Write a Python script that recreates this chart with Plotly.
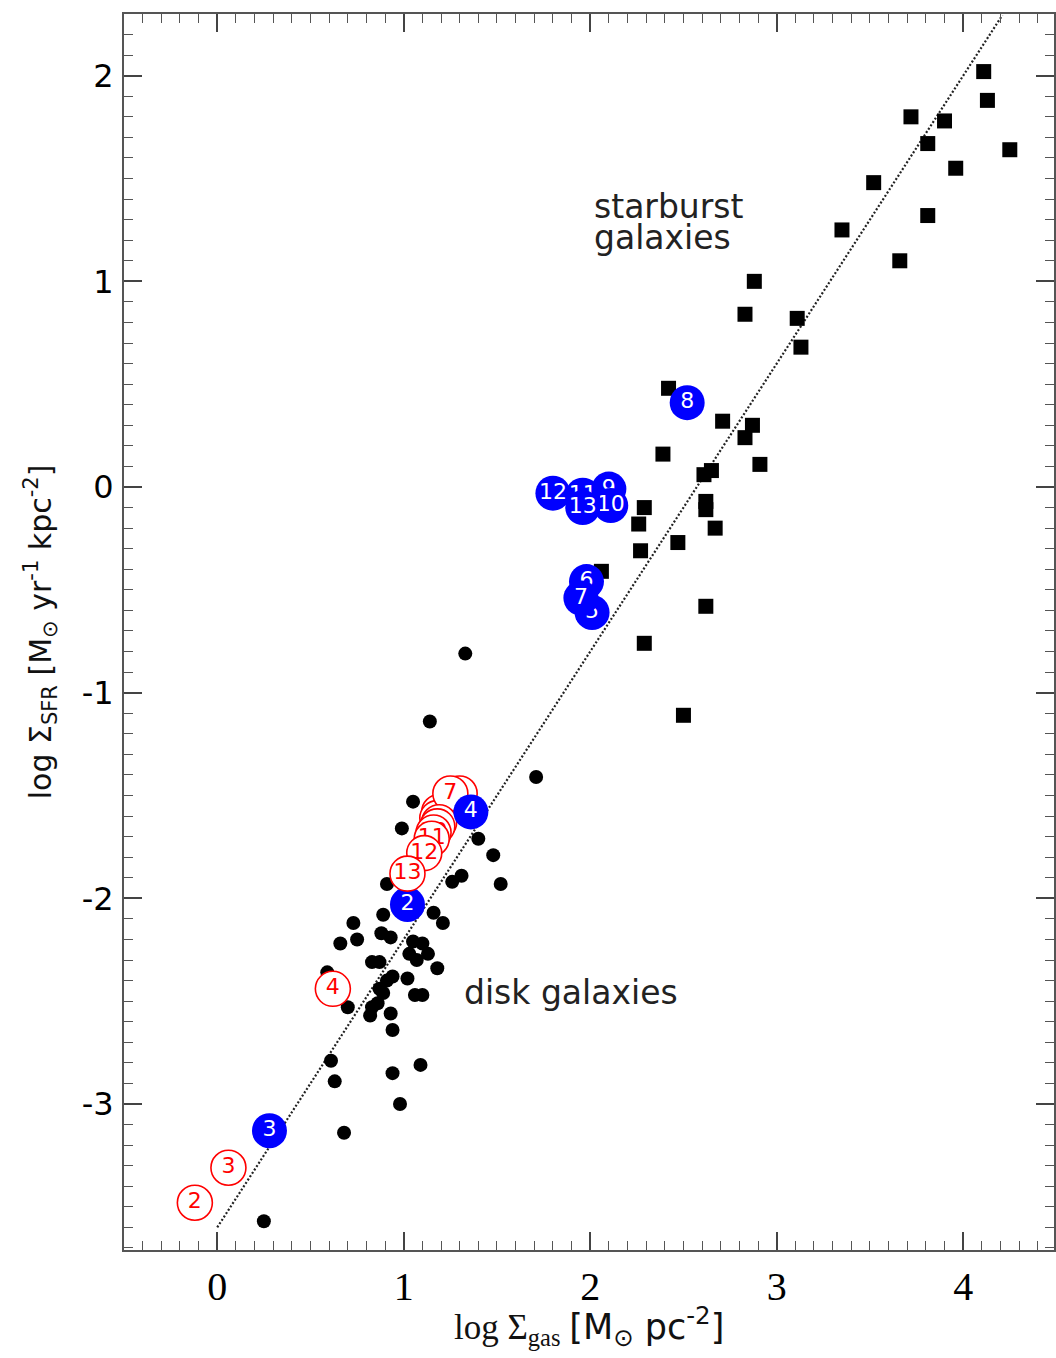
import plotly.graph_objects as go

# ---------------- data ----------------
# Kennicutt-law line: log SFR = -3.6 + 1.4 log gas
law_x = [0.0, 4.21]
law_slope = 1.4
law_intercept = -3.6

# disk galaxies (black filled circles)
disk_x = [1.33, 1.14, 1.71, 1.05, 0.99, 1.40, 1.48, 1.52, 1.31, 1.26, 0.91, 0.89,
          1.16, 1.21, 0.73, 0.88, 0.93, 0.75, 0.66, 1.05, 1.10, 1.13, 1.18, 1.03,
          1.07, 0.83, 0.87, 0.59, 0.94, 0.91, 1.02, 0.87, 0.89, 1.10, 1.06, 0.70,
          0.83, 0.86, 0.82, 0.93, 0.94, 0.61, 1.09, 0.63, 0.94, 0.98, 0.68, 0.25]
disk_y = [-0.81, -1.14, -1.41, -1.53, -1.66, -1.71, -1.79, -1.93, -1.89, -1.92, -1.93, -2.08,
          -2.07, -2.12, -2.12, -2.17, -2.19, -2.20, -2.22, -2.21, -2.22, -2.27, -2.34, -2.27,
          -2.30, -2.31, -2.31, -2.36, -2.38, -2.40, -2.39, -2.44, -2.46, -2.47, -2.47, -2.53,
          -2.53, -2.51, -2.57, -2.56, -2.64, -2.79, -2.81, -2.89, -2.85, -3.00, -3.14, -3.57]

# starburst galaxies (black squares)
sb_x = [4.11, 4.13, 3.72, 3.90, 3.81, 4.25, 3.96, 3.52, 3.81, 3.35, 3.66, 2.88,
        2.83, 3.11, 3.13, 2.42, 2.71, 2.87, 2.83, 2.39, 2.91, 2.65, 2.61, 2.62,
        2.62, 2.67, 2.29, 2.26, 2.27, 2.47, 2.06, 2.62, 2.29, 2.50]
sb_y = [2.02, 1.88, 1.80, 1.78, 1.67, 1.64, 1.55, 1.48, 1.32, 1.25, 1.10, 1.00,
        0.84, 0.82, 0.68, 0.48, 0.32, 0.30, 0.24, 0.16, 0.11, 0.08, 0.06, -0.07,
        -0.11, -0.20, -0.10, -0.18, -0.31, -0.27, -0.41, -0.58, -0.76, -1.11]

# numbered red open circles
red_lbl = ["1", "2", "3", "4", "5", "6", "7", "8", "9", "10", "11", "12", "13"]
red_x = [1.30, -0.12, 0.06, 0.62, 1.19, 1.18, 1.25, 1.19, 1.18, 1.16, 1.15, 1.11, 1.02]
red_y = [-1.49, -3.48, -3.31, -2.44, -1.58, -1.61, -1.49, -1.63, -1.65, -1.68, -1.71, -1.78, -1.88]

# numbered blue filled circles
blue_lbl = ["2", "3", "4", "5", "6", "7", "8", "9", "10", "11", "12", "13"]
blue_x = [1.02, 0.28, 1.36, 2.01, 1.98, 1.95, 2.52, 2.10, 2.11, 1.96, 1.80, 1.96]
blue_y = [-2.03, -3.13, -1.58, -0.61, -0.46, -0.54, 0.41, -0.01, -0.09, -0.04, -0.03, -0.10]
blue_under_red = ["2"]

x_ticks = [0, 1, 2, 3, 4]
x_ticktext = ["0", "1", "2", "3", "4"]
y_ticks = [-3, -2, -1, 0, 1, 2]
y_ticktext = ["-3", "-2", "-1", "0", "1", "2"]

# ---------------- figure ----------------
fig = go.Figure()

law_y = [law_intercept + law_slope * v for v in law_x]
fig.add_trace(go.Scatter(x=law_x, y=law_y, mode="lines",
                         line=dict(color="#222222", width=2.2, dash="2px,2px"),
                         hoverinfo="skip"))

fig.add_trace(go.Scatter(x=disk_x, y=disk_y, mode="markers",
                         marker=dict(symbol="circle", size=14, color="black", line=dict(width=0))))
fig.add_trace(go.Scatter(x=sb_x, y=sb_y, mode="markers",
                         marker=dict(symbol="square", size=15, color="black", line=dict(width=0))))


def add_red(lbl, xv, yv):
    fig.add_trace(go.Scatter(x=[xv], y=[yv], mode="markers+text", text=[lbl],
                             textposition="middle center",
                             textfont=dict(family="DejaVu Sans", size=22, color="red"),
                             marker=dict(symbol="circle", size=35, color="white",
                                         line=dict(color="red", width=1.6))))


def add_blue(lbl, xv, yv):
    fig.add_trace(go.Scatter(x=[xv], y=[yv], mode="markers+text", text=[lbl],
                             textposition="middle center",
                             textfont=dict(family="DejaVu Sans", size=22, color="white"),
                             marker=dict(symbol="circle", size=35, color="#0000ff",
                                         line=dict(width=0))))


for lbl, xv, yv in zip(blue_lbl, blue_x, blue_y):
    if lbl in blue_under_red:
        add_blue(lbl, xv, yv)
for lbl, xv, yv in zip(red_lbl, red_x, red_y):
    add_red(lbl, xv, yv)
for lbl, xv, yv in zip(blue_lbl, blue_x, blue_y):
    if lbl not in blue_under_red:
        add_blue(lbl, xv, yv)

axis_common = dict(showgrid=False, zeroline=False, showline=True, linecolor="#555555",
                   linewidth=2, mirror="ticks", ticks="inside", ticklen=18, tickwidth=1.5,
                   tickcolor="#444444")

fig.update_xaxes(range=[-0.5, 4.487], tickmode="array", tickvals=x_ticks, ticktext=x_ticktext,
                 tickfont=dict(family="Liberation Serif", size=40, color="black"),
                 ticklabelstandoff=0,
                 minor=dict(tickmode="linear", tick0=0, dtick=0.1, ticks="inside", ticklen=9,
                            tickwidth=1.2, tickcolor="#555555"),
                 **axis_common)
fig.update_yaxes(range=[-3.71, 2.30], tickmode="array", tickvals=y_ticks, ticktext=y_ticktext,
                 tickfont=dict(family="DejaVu Sans", size=32, color="black"),
                 ticklabelstandoff=2,
                 minor=dict(tickmode="linear", tick0=0, dtick=0.1, ticks="inside", ticklen=9,
                            tickwidth=1.2, tickcolor="#555555"),
                 **axis_common)

fig.add_annotation(x=2.01, y=1.365, xref="x", yref="y", text="starburst", showarrow=False,
                   xanchor="left", yanchor="middle",
                   font=dict(family="DejaVu Sans", size=33, color="#222222"))
fig.add_annotation(x=2.01, y=1.215, xref="x", yref="y", text="galaxies", showarrow=False,
                   xanchor="left", yanchor="middle",
                   font=dict(family="DejaVu Sans", size=33, color="#222222"))
fig.add_annotation(x=1.31, y=-2.46, xref="x", yref="y", text="disk galaxies", showarrow=False,
                   xanchor="left", yanchor="middle",
                   font=dict(family="DejaVu Sans", size=33, color="#222222"))

# axis titles
fig.add_annotation(x=-0.09, y=0.5, xref="paper", yref="paper", textangle=-90,
                   text="log Σ<sub>SFR</sub> [M<sub>⊙</sub> yr<sup>-1</sup> kpc<sup>-2</sup>]",
                   showarrow=False, xanchor="center", yanchor="middle",
                   font=dict(family="DejaVu Sans", size=30, color="#111111"))
fig.add_annotation(x=0.5, y=-0.062, xref="paper", yref="paper",
                   text="log Σ<sub>gas</sub> <span style=\"font-family:'DejaVu Sans'\">[M<sub>⊙</sub> pc<sup>-2</sup>]</span>",
                   showarrow=False, xanchor="center", yanchor="middle",
                   font=dict(family="Liberation Serif", size=35, color="#111111"))

fig.update_layout(width=1056, height=1358, showlegend=False,
                  margin=dict(l=124, r=0, t=14, b=108),
                  plot_bgcolor="white", paper_bgcolor="white")

fig.write_html("out.html")
